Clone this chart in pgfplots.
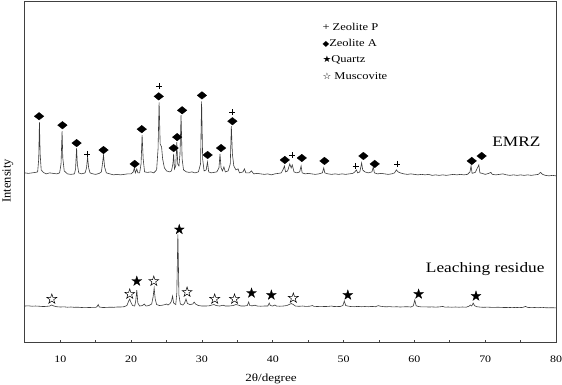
\documentclass[border=0pt]{standalone}
\usepackage{fontspec}
\setmainfont{Liberation Serif}[FakeStretch=1.2]
\newfontfamily\plainfont{Liberation Serif}
\newfontfamily\sym{DejaVu Sans}[FakeStretch=1.1]
\usepackage{pgfplots}
\pgfplotsset{compat=1.18}
\definecolor{curve}{HTML}{3A3A3A}
\definecolor{axc}{HTML}{404040}
\pgfdeclareplotmark{wdiam}{%
  \pgfpathmoveto{\pgfqpoint{0bp}{3.8bp}}%
  \pgfpathlineto{\pgfqpoint{4.8bp}{0bp}}%
  \pgfpathlineto{\pgfqpoint{0bp}{-3.8bp}}%
  \pgfpathlineto{\pgfqpoint{-4.8bp}{0bp}}%
  \pgfpathclose\pgfusepathqfillstroke}
\pgfdeclareplotmark{fstar}{%
  \pgfpathmoveto{\pgfpointpolar{90}{5.2bp}}%
  \pgfpathlineto{\pgfpointpolar{126}{2.0bp}}%
  \pgfpathlineto{\pgfpointpolar{162}{5.2bp}}%
  \pgfpathlineto{\pgfpointpolar{198}{2.0bp}}%
  \pgfpathlineto{\pgfpointpolar{234}{5.2bp}}%
  \pgfpathlineto{\pgfpointpolar{270}{2.0bp}}%
  \pgfpathlineto{\pgfpointpolar{306}{5.2bp}}%
  \pgfpathlineto{\pgfpointpolar{342}{2.0bp}}%
  \pgfpathlineto{\pgfpointpolar{18}{5.2bp}}%
  \pgfpathlineto{\pgfpointpolar{54}{2.0bp}}%
  \pgfpathclose\pgfusepathqfillstroke}
\begin{document}
\begin{tikzpicture}
\begin{axis}[
  scale only axis, width=533bp, height=343bp,
  xmin=5, xmax=80, ymin=0, ymax=344,
  axis line style={axc, line width=0.9bp},
  xtick={10,20,...,80}, minor xtick={15,25,...,75},
  xtick pos=bottom, tick align=inside,
  major tick length=3bp, minor tick length=3bp,
  every tick/.style={axc, line width=0.8bp},
  ytick=\empty,
  /pgf/number format/assume math mode=true,
  ticklabel style={font=\fontsize{10}{12}\selectfont, text=black},
  xticklabel style={yshift=-10bp},
  xlabel={2θ/degree},
  xlabel style={font=\fontsize{11}{13}\selectfont, at={(axis description cs:0.4634,0)}, anchor=north, yshift=-28bp},
  ylabel={Intensity},
  ylabel style={font=\plainfont\fontsize{12.5}{14}\selectfont, at={(axis description cs:-0.032,0.474)}, anchor=center},
  clip=false,
]
% EMRZ pattern
\addplot[curve, line width=0.6bp, mark=none] coordinates {
(5,171) (5.5,170.5) (6,171) (6.5,171.5) (6.8,172) (6.95,185) (7.05,222) (7.15,190) (7.3,174) (7.6,171.5)
(8,170) (8.5,171) (9,170.5) (9.5,170) (9.9,171) (10.1,180) (10.25,213) (10.35,186) (10.55,173) (11,170)
(11.5,169.5) (12,170) (12.15,175) (12.3,196) (12.4,180) (12.6,171) (13,170) (13.5,171) (13.7,176) (13.85,187)
(14,176) (14.2,171) (14.6,170) (15,169.5) (15.5,170.5) (15.8,172) (15.95,180) (16.1,189) (16.25,177) (16.5,171)
(17,170) (17.5,169) (18,169.5) (18.5,169) (19,169.5) (19.5,170) (20,170) (20.3,172) (20.45,176) (20.6,171)
(20.8,175) (20.95,171) (21.2,171) (21.4,180) (21.55,209) (21.7,185) (21.9,172) (22.3,171.5) (22.8,172) (23.2,171)
(23.6,174) (23.8,195) (23.95,242) (24.1,200) (24.3,197) (24.45,185) (24.7,176) (25,173) (25.4,172) (25.7,173)
(25.9,180) (26.0,190) (26.12,175) (26.3,178) (26.45,202) (26.58,180) (26.75,178) (26.9,190) (27.05,229) (27.2,185)
(27.4,174) (27.8,172) (28.2,171.5) (28.6,172) (29,171) (29.5,172) (29.8,180) (29.95,243) (30.1,185) (30.3,173)
(30.6,174) (30.78,182) (30.95,172) (31.3,171) (31.7,171.5) (32.1,172) (32.4,176) (32.55,190) (32.7,176) (32.9,173)
(33.1,177) (33.3,172) (33.7,173) (34.0,180) (34.15,218) (34.3,190) (34.5,178) (34.8,174) (35.1,175) (35.3,171)
(35.8,172) (36.0,175) (36.2,171) (36.7,171) (37,173) (37.3,170) (37.8,170.5) (38.3,170) (38.8,169.5) (39.3,170)
(39.8,169) (40.3,170) (40.8,170.5) (41.2,171) (41.5,175) (41.65,178) (41.8,172) (42.1,173) (42.4,180) (42.6,176)
(42.75,179) (43.0,172) (43.4,171) (43.8,172) (44.0,178) (44.15,171) (44.6,170) (45,170.5) (45.5,170) (46,169.5)
(46.5,170) (47,171) (47.2,176) (47.35,171) (47.8,170) (48.3,169.5) (48.8,170) (49.3,169.5) (49.8,170) (50.3,169.5)
(50.8,170) (51.3,170.5) (51.6,172) (51.8,174) (52.0,171) (52.3,172) (52.55,181) (52.7,174) (53,172) (53.5,171)
(54,172) (54.2,177) (54.35,171) (54.8,170) (55.3,170.5) (55.8,170) (56.3,169.5) (56.8,170) (57.2,171) (57.45,174)
(57.7,172) (58,171) (58.5,170) (59,169.5) (59.5,170) (60,169.5) (60.5,169) (61,169.5) (61.5,169) (62,169.5)
(62.5,168.5) (63,169) (63.5,168.5) (64,169) (64.5,168.5) (65,169) (65.5,169.5) (66,169) (66.5,169.5) (67,169)
(67.5,169.5) (67.85,172) (68.0,178) (68.15,170.5) (68.6,171.5) (68.9,176) (69.1,179) (69.25,171) (69.6,170.5) (70,169.5)
(70.5,170.5) (70.8,171.5) (71,169.5) (71.5,169) (72,169.5) (72.5,170) (73,169) (73.5,168.5) (74,169) (74.5,168.5)
(75,169) (75.5,168.5) (76,169) (76.5,168.5) (77,169) (77.5,169.5) (77.8,171.5) (78.1,169.5) (78.5,168.5) (79,168)
(79.5,168.5) (80,168)
};
% Leaching residue pattern
\addplot[curve, line width=0.6bp, mark=none] coordinates {
(5,37) (5.5,37.2) (6,36.8) (6.5,37) (7,36.8) (7.5,36.5) (8,36.6) (8.5,37) (8.8,38) (9.1,37)
(9.5,36.3) (10,36) (10.5,36.2) (11,35.8) (11.5,36) (12,35.7) (12.5,35.8) (13,35.5) (13.5,35.7) (14,35.5)
(14.5,35.6) (15,35.6) (15.2,36.5) (15.35,38.5) (15.5,36) (16,35.5) (16.5,35.6) (17,35.8) (17.5,35.7) (18,36)
(18.5,36) (19,36.3) (19.4,37.5) (19.65,42) (19.8,44) (19.95,41) (20.2,37.5) (20.5,37) (20.65,42) (20.8,53)
(20.95,40) (21.2,37) (21.6,37.5) (21.85,39) (22.1,37) (22.5,37.5) (22.9,39) (23.1,46) (23.25,55) (23.4,44)
(23.6,38.5) (24,37.5) (24.4,37.8) (24.8,38.5) (25.0,39) (25.2,38) (25.5,39.5) (25.7,42) (25.85,47) (26.0,40)
(26.3,38.5) (26.45,50) (26.6,109) (26.75,48) (26.95,39) (27.3,38) (27.55,40) (27.75,44) (27.95,39.5) (28.3,38.5)
(28.7,39) (28.9,41) (29.1,39) (29.5,37.5) (30,37) (30.5,37) (31,37.2) (31.4,38) (31.7,38.5) (32.0,37.5)
(32.5,37) (33,37.8) (33.3,37) (33.8,37) (34.4,37.5) (34.8,38.5) (35.1,38) (35.5,37) (36,37) (36.4,37.5)
(36.6,41) (36.75,37.5) (37.1,37.2) (37.5,37.8) (37.8,37) (38.3,36.8) (38.8,37) (39.3,37) (39.5,40) (39.65,37.5)
(40,37) (40.3,38) (40.5,37) (41,36.8) (41.5,37) (42,37.5) (42.3,38.5) (42.6,39.5) (42.9,38.5) (43.2,37)
(43.7,36.7) (44.2,37) (44.7,36.6) (45.2,36.8) (45.6,37.5) (45.8,36.7) (46.3,36.5) (46.8,36.7) (47.3,36.5) (47.8,36.6)
(48.3,37) (48.6,36.5) (49,36.6) (49.5,36.5) (49.9,37.5) (50.1,42) (50.3,37.5) (50.6,37) (51,36.5) (51.5,36.3)
(52,36.6) (52.5,36.3) (53,36.5) (53.5,36.3) (54,36.6) (54.5,36.3) (54.9,37.4) (55.2,36.8) (55.6,36.4) (56,36.2)
(56.5,36.4) (57,36.1) (57.5,36.3) (58,36) (58.5,36.2) (59,36.3) (59.5,36) (59.85,37.2) (60.05,43) (60.25,37.2)
(60.6,36.5) (61,36.1) (61.5,36.2) (62,36) (62.5,36.1) (63,35.9) (63.5,36.1) (64,36.6) (64.3,35.9) (64.8,36)
(65.3,35.8) (65.8,36) (66.3,35.8) (66.8,36) (67.3,35.8) (67.7,36.8) (67.9,38) (68.1,37) (68.3,40) (68.5,37.3)
(68.8,36.3) (69.3,35.9) (69.8,35.7) (70.3,35.9) (70.8,35.7) (71.3,35.6) (71.8,35.8) (72.3,35.6) (72.8,35.5) (73.3,35.6)
(73.8,35.4) (74.3,35.6) (74.8,35.4) (75.3,35.6) (75.7,36.6) (76,35.6) (76.5,35.4) (77,35.5) (77.5,35.3) (78,35.7)
(78.5,35.3) (79,35.2) (79.5,35.3) (80,35.1)
};
% Zeolite A markers
\addplot[only marks, mark=wdiam, black, fill=black, line width=0.3bp] coordinates {
(7.0,228) (10.3,219) (12.3,201) (16.1,194) (20.5,180) (21.5,215) (23.9,248) (26.0,196) (26.5,207) (27.2,234)
(30.0,249) (30.8,189) (32.7,196) (34.3,223) (41.7,184) (44.1,186) (47.3,183) (52.8,188) (54.4,180) (68.1,183) (69.5,188)
};
% Zeolite P markers
\addplot[only marks, mark=+, mark size=3bp, black, line width=0.5bp] coordinates {
(13.8,190) (23.9,258) (34.3,232) (42.7,189) (51.7,178) (57.6,180)
};
% Quartz markers
\addplot[only marks, mark=fstar, black, fill=black, line width=0.3bp] coordinates {
(20.8,62) (26.8,114) (37.0,50) (39.8,48) (50.6,48) (60.6,49) (68.7,47)
};
% Muscovite markers
\addplot[only marks, mark=fstar, black, fill=white, line width=0.5bp] coordinates {
(8.8,44) (19.8,49) (23.2,62) (27.9,51) (31.8,44) (34.6,44) (42.9,45)
};
\node[anchor=base west, font=\fontsize{10.5}{12}\selectfont, inner sep=0pt] at (axis cs:47.0,314.7) {+ Zeolite P};
\node[anchor=base west, font=\fontsize{10.5}{12}\selectfont, inner sep=0pt] at (axis cs:47.0,298) {{\sym\fontsize{8}{10}\selectfont ◆}Zeolite A};
\node[anchor=base west, font=\fontsize{10.5}{12}\selectfont, inner sep=0pt] at (axis cs:47.0,281.7) {{\sym\fontsize{9}{10}\selectfont ★}Quartz};
\node[anchor=base west, font=\fontsize{10.5}{12}\selectfont, inner sep=0pt] at (axis cs:47.0,265) {{\sym\fontsize{9}{10}\selectfont ☆} Muscovite};
\node[anchor=base, font=\fontsize{14.5}{16}\selectfont, inner sep=0pt] at (axis cs:74.4,197.3) {EMRZ};
\node[anchor=base, font=\fontsize{14.5}{16}\selectfont, inner sep=0pt] at (axis cs:70.0,70.7) {Leaching residue};
\end{axis}
\pgfresetboundingbox
\path[use as bounding box] ([shift={(-25bp,-42bp)}]current axis.south west) rectangle ([shift={(6bp,1bp)}]current axis.north east);
\end{tikzpicture}
\end{document}
